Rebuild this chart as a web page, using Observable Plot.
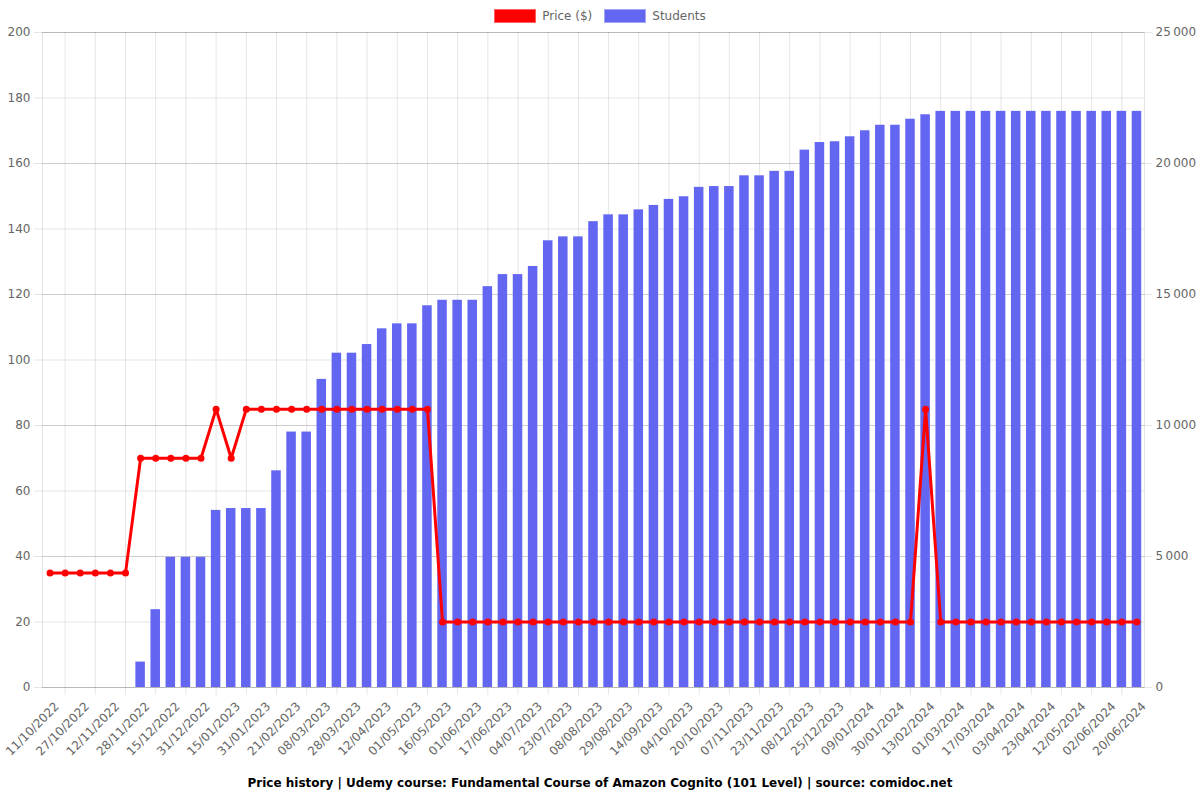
<!DOCTYPE html>
<html>
<head>
<meta charset="utf-8">
<script src="https://cdn.jsdelivr.net/npm/d3@7"></script>
<script src="https://cdn.jsdelivr.net/npm/@observablehq/plot@0.6"></script>
<style>
  body { margin: 0; background: #fff; font-family: "DejaVu Sans", sans-serif; }
  #legend { height: 24px; display: flex; justify-content: center; align-items: flex-start; font-size: 12px; color: #666; }
  .item { display: flex; align-items: center; margin: 9px 6px 0 6px; }
  .box { width: 40px; height: 12px; margin-right: 6px; }
  #caption { height: 28px; line-height: 28px; text-align: center; font-weight: bold; font-size: 12px; color: #000; }
</style>
</head>
<body>
<div id="legend">
  <div class="item"><div class="box" style="background:#ff0000;border:1px solid #ff6060"></div><span>Price ($)</span></div>
  <div class="item"><div class="box" style="background:#6366f1;border:1px solid #a3a5f6"></div><span>Students</span></div>
</div>
<div id="chart"></div>
<div id="caption">Price history | Udemy course: Fundamental Course of Amazon Cognito (101 Level) | source: comidoc.net</div>
<script>
// Tick labels shown on the x axis (every other category)
const dateLabels = [
  "11/10/2022","27/10/2022","12/11/2022","28/11/2022","15/12/2022","31/12/2022","15/01/2023","31/01/2023",
  "21/02/2023","08/03/2023","28/03/2023","12/04/2023","01/05/2023","16/05/2023","01/06/2023","17/06/2023",
  "04/07/2023","23/07/2023","08/08/2023","29/08/2023","14/09/2023","04/10/2023","20/10/2023","07/11/2023",
  "23/11/2023","08/12/2023","25/12/2023","09/01/2024","30/01/2024","13/02/2024","01/03/2024","17/03/2024",
  "03/04/2024","23/04/2024","12/05/2024","02/06/2024","20/06/2024"
];

// Price ($), one per category (73)
const price = [
  35,35,35,35,35,35,
  70,70,70,70,70,
  85,
  70,
  85,85,85,85,85,85,85,85,85,85,85,85,85,
  20,20,20,20,20,20,20,20,20,20,20,20,20,20,20,20,20,20,20,20,20,20,20,20,20,20,20,20,20,20,20,20,
  85,
  20,20,20,20,20,20,20,20,20,20,20,20,20,20
];

// Students, one per category (73)
const students = [
  0,0,0,0,0,0,
  970,2970,4970,4970,4970,6760,6830,6830,6830,8270,9750,9750,
  11760,12760,12760,13090,13690,13880,13880,14570,14780,14780,14780,15300,15760,15760,
  16070,17050,17200,17200,17780,18040,18040,18230,18400,18630,18730,19090,19120,19120,
  19530,19530,19700,19700,20510,20800,20830,21020,21250,21460,21460,21690,21860,
  21990,21990,21990,21990,21990,21990,21990,21990,21990,21990,21990,21990,21990,21990
];

const n = price.length;
const idx = d3.range(n);
const evenIdx = idx.filter(i => i % 2 === 0);
const oddIdx = idx.filter(i => i % 2 === 1);
const ratio = 25000 / 200;
const fmt = d3.formatLocale({decimal: ".", thousands: "\u202f", grouping: [3], currency: ["", ""]}).format(",d");

const data = idx.map(i => ({i, price: price[i], students: students[i]}));

const chart = Plot.plot({
  width: 1200,
  height: 745,
  marginTop: 8,
  marginLeft: 42,
  marginRight: 56,
  marginBottom: 82,
  style: {fontFamily: "DejaVu Sans, sans-serif", fontSize: "12px", color: "#666", background: "#fff"},
  x: {type: "band", domain: idx, paddingInner: 0.37, paddingOuter: 0.185, round: false, axis: null},
  y: {domain: [0, 200], axis: null},
  marks: [
    Plot.ruleY(d3.range(0, 201, 20), {stroke: "#000", strokeOpacity: 0.1, insetLeft: -8}),
    Plot.ruleY(d3.range(0, 201, 40), {stroke: "#000", strokeOpacity: 0.1, insetRight: -8}),
    Plot.ruleX(oddIdx, {stroke: "#000", strokeOpacity: 0.1, insetBottom: -8}),
    Plot.frame({stroke: "#000", strokeOpacity: 0.1}),
    Plot.barY(data, {x: "i", y: d => d.students / ratio, fill: "#6366f1"}),
    Plot.line(data, {x: "i", y: "price", stroke: "#ff0000", strokeWidth: 3}),
    Plot.dot(data, {x: "i", y: "price", r: 3.5, fill: "#ff0000"}),
    Plot.axisY({anchor: "left", ticks: d3.range(0, 201, 20), tickSize: 0, tickPadding: 12, label: null, fill: "#666"}),
    Plot.axisY({anchor: "right", ticks: d3.range(0, 201, 40), tickSize: 0, tickPadding: 11, label: null, tickFormat: d => fmt(d * ratio), fill: "#666"}),
    Plot.axisX({ticks: evenIdx, tickFormat: i => dateLabels[i / 2], tickRotate: -45, tickSize: 0, tickPadding: 17, dx: 7, label: null, fill: "#666"})
  ]
});
document.getElementById("chart").appendChild(chart);
</script>
</body>
</html>
